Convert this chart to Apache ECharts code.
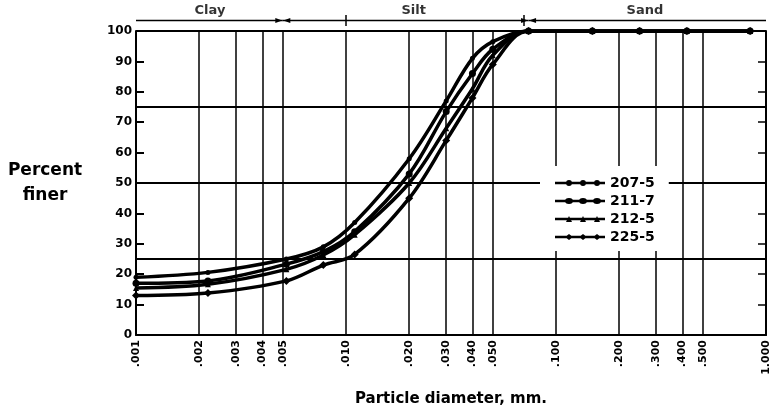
<!DOCTYPE html>
<html><head><meta charset="utf-8">
<script src="https://cdn.jsdelivr.net/npm/echarts@6/dist/echarts.min.js"></script>
<style>html,body{margin:0;padding:0;background:#fff}#c{width:772px;height:420px}</style>
</head><body><div id="c"></div>
<script>
// ---- data ----
const diameters = [0.001, 0.0022, 0.0052, 0.0078, 0.011, 0.02, 0.03, 0.04, 0.05, 0.074, 0.149, 0.25, 0.42, 0.84];
const s207_5 = [19, 20.6, 25, 29, 37, 58, 77, 91, 96.5, 100, 100, 100, 100, 100];
const s211_7 = [17, 17.8, 23.3, 27.4, 34, 53, 73.5, 86, 94, 100, 100, 100, 100, 100];
const s212_5 = [15.5, 16.7, 21.6, 26.3, 33, 50, 68, 81, 92, 100, 100, 100, 100, 100];
const s225_5 = [13, 13.8, 17.8, 23, 26.5, 45, 64, 78, 89, 100, 100, 100, 100, 100];
const seriesNames = ['207-5', '211-7', '212-5', '225-5'];
const xTicks = [0.001, 0.002, 0.003, 0.004, 0.005, 0.01, 0.02, 0.03, 0.04, 0.05, 0.1, 0.2, 0.3, 0.4, 0.5, 1];
const bandNames = ['Clay', 'Silt', 'Sand'];
const bandLimits = [0.001, 0.005, 0.074, 1];
const bandLabelAt = [0.00225, 0.021, 0.265];

// ---- chart ----
const FONT = 'DejaVu Sans';
const values = [s207_5, s211_7, s212_5, s225_5];
const symbols = [
  {symbol: 'circle', size: 5},
  {symbol: 'circle', size: 7},
  {symbol: 'triangle', size: 6},
  {symbol: 'diamond', size: 8}
];
function circ(cx, rx) { return 'M' + (cx - rx) + ',3a' + rx + ',3 0 1,1 ' + (2 * rx) + ',0a' + rx + ',3 0 1,1 ' + (-2 * rx) + ',0Z'; }
function tri(cx) { return 'M' + (cx - 3) + ',6L' + cx + ',0L' + (cx + 3) + ',6Z'; }
function dia(cx) { return 'M' + (cx - 4) + ',3L' + cx + ',0L' + (cx + 4) + ',3L' + cx + ',6Z'; }
const bar = 'M0,1.8H50V4.2H0Z';
const marks = [14, 28, 42];
const legendIcons = [
  'path://' + bar + marks.map(c => circ(c, 3)).join(''),
  'path://' + bar + marks.map(c => circ(c, 4)).join(''),
  'path://' + bar + marks.map(c => tri(c)).join(''),
  'path://' + bar + marks.map(c => dia(c)).join('')
];
const fmt = v => v >= 1 ? v.toFixed(3) : '.' + String(Math.round(v * 1000)).padStart(3, '0');

const series = values.map((v, i) => ({
  name: seriesNames[i], type: 'line', xAxisIndex: 0, yAxisIndex: 0,
  data: diameters.map((d, j) => [d, v[j]]),
  smooth: 0.35, symbol: symbols[i].symbol, symbolSize: symbols[i].size, showSymbol: true,
  lineStyle: {color: '#000', width: 3.5}, itemStyle: {color: '#000'}, z: 3
}));

bandNames.forEach((name, i) => {
  const from = bandLimits[i], to = bandLimits[i + 1];
  const s = {
    type: 'line', xAxisIndex: 1, yAxisIndex: 3, silent: true,
    lineStyle: {color: '#000', width: 1.5}, itemStyle: {color: '#000'},
    symbolSize: [5, 7], showSymbol: true,
    data: [
      {value: [from, 0.5], symbol: i === 0 ? 'none' : 'triangle', symbolRotate: 90, symbolOffset: [4, 0]},
      {value: [to, 0.5], symbol: i === bandNames.length - 1 ? 'none' : 'triangle', symbolRotate: -90, symbolOffset: [-4, 0]}
    ]
  };
  if (i === 0) {
    s.markLine = {
      silent: true, symbol: 'none', label: {show: false},
      lineStyle: {color: '#000', width: 1.5, type: 'solid'},
      data: bandLimits.slice(1, -1).map(b => ({xAxis: b}))
    };
  }
  series.push(s);
});
series.push({
  type: 'scatter', xAxisIndex: 1, yAxisIndex: 3, silent: true, symbolSize: 0,
  data: bandLabelAt.map((x, i) => ({value: [x, 0.5], name: bandNames[i]})),
  label: {show: true, position: 'top', distance: 3, formatter: '{b}', color: '#000',
    fontFamily: FONT, fontWeight: 'bold', fontSize: 13}
});

const chart = echarts.init(document.getElementById('c'));
chart.setOption({
  animation: false,
  backgroundColor: '#fff',
  grid: [
    {left: 136, right: 6, top: 31, bottom: 85},
    {left: 136, right: 6, top: 15, height: 11}
  ],
  xAxis: [
    {
      gridIndex: 0, type: 'log', logBase: 10, min: 0.001, max: 1,
      axisLine: {lineStyle: {color: '#000', width: 2}},
      axisTick: {show: false, customValues: xTicks},
      axisLabel: {customValues: xTicks, rotate: 90, formatter: fmt, color: '#000',
        fontFamily: FONT, fontWeight: 'bold', fontSize: 11, margin: 5},
      splitLine: {show: true, lineStyle: {color: '#000', width: 1.5}},
      name: 'Particle diameter, mm.', nameLocation: 'middle', nameGap: 57,
      nameTextStyle: {color: '#000', fontFamily: FONT, fontWeight: 'bold', fontSize: 15}
    },
    {gridIndex: 1, type: 'log', logBase: 10, min: 0.001, max: 1, show: false}
  ],
  yAxis: [
    {
      gridIndex: 0, type: 'value', min: 0, max: 100, interval: 10, position: 'left',
      axisLine: {show: true, lineStyle: {color: '#000', width: 2}},
      axisTick: {show: true, inside: true, length: 8, lineStyle: {color: '#000', width: 2}},
      axisLabel: {color: '#000', fontFamily: FONT, fontWeight: 'bold', fontSize: 12, margin: 4},
      splitLine: {show: false}
    },
    {
      gridIndex: 0, type: 'value', min: 0, max: 100, interval: 25, position: 'right',
      axisLine: {show: true, lineStyle: {color: '#000', width: 2}},
      axisTick: {show: false}, axisLabel: {show: false},
      splitLine: {show: true, lineStyle: {color: '#000', width: 2}}
    },
    {
      gridIndex: 0, type: 'value', min: 0, max: 100, interval: 10, position: 'right',
      axisLine: {show: false},
      axisTick: {show: true, inside: true, length: 8, lineStyle: {color: '#000', width: 1.5}},
      axisLabel: {show: false}, splitLine: {show: false}
    },
    {gridIndex: 1, type: 'value', min: 0, max: 1, show: false}
  ],
  legend: {
    orient: 'vertical', left: 540, top: 166, padding: [10, 14, 7, 15],
    backgroundColor: '#fff', itemWidth: 50, itemHeight: 6, itemGap: 4, selectedMode: false,
    textStyle: {color: '#000', fontFamily: FONT, fontWeight: 'bold', fontSize: 14, lineHeight: 14},
    data: seriesNames.map((n, i) => ({name: n, icon: legendIcons[i]}))
  },
  graphic: [{
    type: 'text', x: 45, y: 183,
    style: {text: 'Percent\nfiner', align: 'center', verticalAlign: 'middle',
      font: 'bold 17px "DejaVu Sans"', fill: '#000', lineHeight: 25}
  }],
  series: series
});
</script>
</body></html>
